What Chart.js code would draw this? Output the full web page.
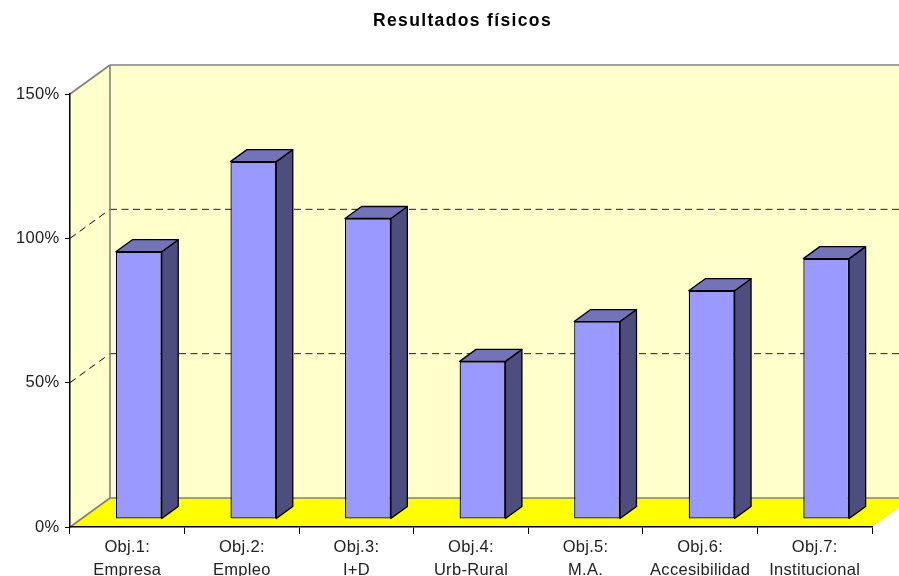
<!DOCTYPE html>
<html><head><meta charset="utf-8">
<style>html,body{margin:0;padding:0;background:#fff}canvas{display:block}</style>
<script src="https://cdn.jsdelivr.net/npm/chart.js@4"></script>
</head><body><canvas id="c" width="899" height="576"></canvas>
<script>
const categories = [["Obj.1:","Empresa"],["Obj.2:","Empleo"],["Obj.3:","I+D"],["Obj.4:","Urb-Rural"],["Obj.5:","M.A."],["Obj.6:","Accesibilidad"],["Obj.7:","Institucional"]];
const values = [92.6,123.8,104.1,54.6,68.4,79.1,90.2];
const gridValues = [50,100];
const titleText = "Resultados físicos";

const FONT = "'Liberation Sans', Arial, sans-serif";
const WALL = {dx:40, dy:-29};
const BAR_SHIFT = {dx:11.5, dy:-8};
const BAR_DEPTH = {dx:16.5, dy:-12};
const TITLE_SHIFT = 26.5;
const C = {wall:"#FFFFCC", floor:"#FFFF00", edge:"#808080", front:"#9999FF", side:"#4D4D80", top:"#7373B8"};

function poly(ctx, pts, fill, stroke, lw){
  ctx.beginPath();
  pts.forEach((p,i)=> i?ctx.lineTo(p[0],p[1]):ctx.moveTo(p[0],p[1]));
  ctx.closePath();
  if(fill){ctx.fillStyle=fill;ctx.fill();}
  if(stroke){ctx.strokeStyle=stroke;ctx.lineWidth=lw||1;ctx.stroke();}
}
function line(ctx,x1,y1,x2,y2,color,lw,dash){
  ctx.save();ctx.beginPath();ctx.setLineDash(dash||[]);ctx.strokeStyle=color;ctx.lineWidth=lw||1;
  ctx.moveTo(x1,y1);ctx.lineTo(x2,y2);ctx.stroke();ctx.restore();
}
const box3d = {
  id:"box3d",
  beforeDraw(chart){
    const ctx=chart.ctx, a=chart.chartArea, y=chart.scales.y;
    const L=a.left,R=a.right,T=y.getPixelForValue(150),B=y.getPixelForValue(0);
    const dx=WALL.dx,dy=WALL.dy;
    ctx.save();
    poly(ctx,[[L,T],[L+dx,T+dy],[L+dx,B+dy],[L,B]],C.wall);
    poly(ctx,[[L+dx,T+dy],[R+dx,T+dy],[R+dx,B+dy],[L+dx,B+dy]],C.wall);
    poly(ctx,[[L,B],[R,B],[R+dx,B+dy],[L+dx,B+dy]],C.floor);
    gridValues.forEach(v=>{
      const p=y.getPixelForValue(v);
      line(ctx,L,p,L+dx,p+dy,"#000",1,[7,5]);
      line(ctx,L+dx,p+dy,R+dx,p+dy,"#222",1,[7,4.5]);
    });
    line(ctx,L,T,L+dx,T+dy,C.edge,1.6);
    line(ctx,L+dx,T+dy,R+dx,T+dy,C.edge,1.6);
    line(ctx,L+dx,T+dy,L+dx,B+dy,C.edge,1.6);
    line(ctx,L+dx,B+dy,L,B,C.edge,1.6);
    line(ctx,L+dx,B+dy,R+dx,B+dy,C.edge,1.6);
    ctx.restore();
    ctx.letterSpacing="0.3px";
    const tb=chart.titleBlock;
    if(tb && !tb._wrapped){
      tb._wrapped=true;
      const orig=tb.draw.bind(tb);
      tb.draw=function(){
        const prev=ctx.letterSpacing;
        ctx.letterSpacing="1.35px";
        tb.left+=TITLE_SHIFT;tb.right+=TITLE_SHIFT;
        orig();
        tb.left-=TITLE_SHIFT;tb.right-=TITLE_SHIFT;
        ctx.letterSpacing=prev;
      };
    }
  },
  beforeDatasetDraw(chart,args){
    const ctx=chart.ctx;
    ctx.save();
    ctx.translate(BAR_SHIFT.dx,BAR_SHIFT.dy);
    args.meta.data.forEach(el=>{
      const l=el.x-el.width/2,r=el.x+el.width/2,t=el.y,b=el.base;
      const dx=BAR_DEPTH.dx,dy=BAR_DEPTH.dy;
      ctx.lineJoin="round";
      poly(ctx,[[r,t],[r+dx,t+dy],[r+dx,b+dy],[r,b]],C.side,"#000",1.3);
      poly(ctx,[[l,t],[l+dx,t+dy],[r+dx,t+dy],[r,t]],C.top,"#000",1.3);
    });
  },
  afterDatasetDraw(chart){ chart.ctx.restore(); }
};
new Chart(document.getElementById("c"),{
  type:"bar",
  data:{labels:categories,datasets:[{data:values,backgroundColor:C.front,borderColor:"#000",borderWidth:1.3,borderSkipped:false,barPercentage:0.4,categoryPercentage:1,clip:false}]},
  plugins:[box3d],
  options:{
    responsive:false,animation:false,
    layout:{padding:{left:0,right:27,top:0,bottom:0}},
    plugins:{
      legend:{display:false},tooltip:{enabled:false},
      title:{display:true,text:titleText,color:"#000",font:{family:FONT,size:17.5,weight:"bold",lineHeight:1.2},padding:{top:11,bottom:62}}
    },
    scales:{
      x:{
        grid:{drawOnChartArea:false,drawTicks:true,tickLength:7,color:"#000",offset:true},
        border:{color:"#000",width:1.5},
        ticks:{color:"#222",font:{family:FONT,size:16.5,lineHeight:1.4},padding:2,maxRotation:0,autoSkip:false},
        afterFit(s){s.height=49;}
      },
      y:{
        min:0,max:150,
        grid:{drawOnChartArea:false,drawTicks:true,tickLength:5,color:"#000"},
        border:{color:"#000",width:1.5},
        ticks:{stepSize:50,color:"#222",font:{family:FONT,size:16.5},padding:5.5,callback:v=>v+"%"},
        afterFit(s){s.width=70;}
      }
    }
  }
});
</script></body></html>
